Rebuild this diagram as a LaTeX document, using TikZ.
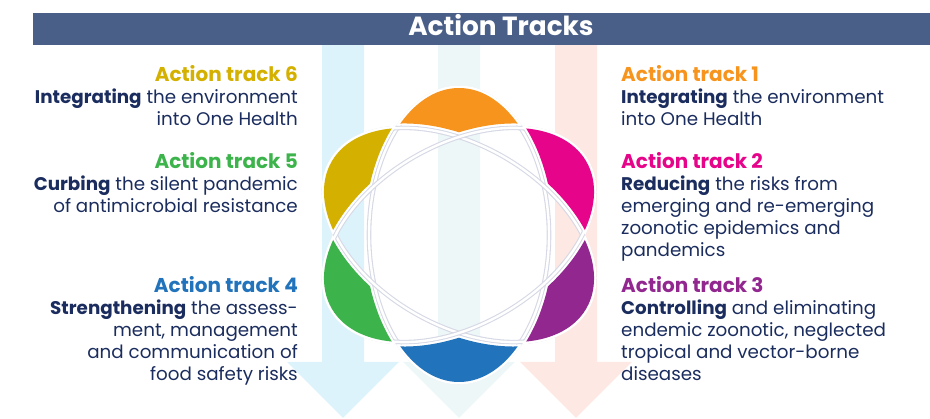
\documentclass[tikz,border=0pt]{standalone}
\usepackage{fontspec}
\setmainfont{Poppins}
\usetikzlibrary{positioning}

\definecolor{barblue}{HTML}{4A5F88}
\definecolor{textnavy}{HTML}{1B2D5E}
\definecolor{atorange}{HTML}{F7941D}
\definecolor{atpink}{HTML}{E6058A}
\definecolor{atpurple}{HTML}{92278F}
\definecolor{atblue}{HTML}{2173BB}
\definecolor{atgreen}{HTML}{3CB44B}
\definecolor{atgold}{HTML}{D4B000}
\definecolor{shaftblue}{HTML}{DDF3FC}
\definecolor{shaftteal}{HTML}{EDF7F8}
\definecolor{shaftpink}{HTML}{FDE8E3}
\definecolor{ringgray}{HTML}{D6D9E5}

\newcommand{\tracktitle}[2]{{\color{#1}\fontsize{20}{22}\selectfont\bfseries #2}}
\tikzstyle{trackleft} = [align=right, anchor=base east, inner sep=0, text=textnavy, font=\fontsize{18.3}{22}\selectfont]
\tikzstyle{trackright} = [trackleft, align=left, anchor=base west]
\tikzstyle{ring} = [draw=ringgray, line width=1.1pt, double=white, double distance=2.4pt]

% one ellipse of the flower: #1 its rotation, #2 #3 the other two, #4 top petal, #5 bottom petal
% (square drawn clockwise, ellipse counter-clockwise: the clip keeps the outside)
\newcommand{\petalpair}[5]{%
  \begin{scope}
    \clip[rotate=#1] (0,0) ellipse (92.5 and 149.5);
    \clip[rotate=#2] (-300,-300) -- (-300,300) -- (300,300) -- (300,-300) -- cycle (0,0) ellipse (92.5 and 149.5);
    \clip[rotate=#3] (-300,-300) -- (-300,300) -- (300,300) -- (300,-300) -- cycle (0,0) ellipse (92.5 and 149.5);
    \fill[white] (-300,-300) rectangle (300,300);
  \end{scope}
  \begin{scope}
    \clip[rotate=#1] (0,0) ellipse (90 and 147);
    \clip[rotate=#2] (-300,-300) -- (-300,300) -- (300,300) -- (300,-300) -- cycle (0,0) ellipse (94.5 and 151.5);
    \clip[rotate=#3] (-300,-300) -- (-300,300) -- (300,300) -- (300,-300) -- cycle (0,0) ellipse (94.5 and 151.5);
    \fill[#4, rotate=#1] (-300,0) rectangle (300,300);
    \fill[#5, rotate=#1] (-300,-300) rectangle (300,0);
  \end{scope}}

\begin{document}
\begin{tikzpicture}[x=1pt, y=1pt]
\useasboundingbox (0,0) rectangle (930,419);

%arrows
\fill[shaftblue] (322,374) -- (364,374) -- (364,57) -- (399,57) -- (343,1) -- (287,57) -- (322,57) -- cycle;
\fill[shaftteal] (438,374) -- (480,374) -- (480,57) -- (515,57) -- (459,1) -- (403,57) -- (438,57) -- cycle;
\fill[shaftpink] (555,374) -- (597,374) -- (597,57) -- (632,57) -- (576,1) -- (520,57) -- (555,57) -- cycle;

%header
\node (bar) [fill=barblue, minimum width=897, minimum height=32, inner sep=0, anchor=north west] at (33,406) {};
\node (title) [text=white, font=\fontsize{26.3}{30}\selectfont\bfseries, inner sep=0, anchor=base] at (501,383) {Action Tracks};

%flower
\begin{scope}[shift={(459,184)}]
\draw[ring] (0,0) ellipse (90 and 147);
\draw[ring, rotate=60] (0,0) ellipse (90 and 147);
\draw[ring, rotate=-60] (0,0) ellipse (90 and 147);
\petalpair{0}{60}{-60}{atorange}{atblue}
\petalpair{60}{0}{-60}{atgold}{atpurple}
\petalpair{-60}{0}{60}{atpink}{atgreen}
\end{scope}

%left tracks (anchored on the last line)
\node (track6) [trackleft] at (298,293) {\tracktitle{atgold}{Action track 6}\\\textbf{Integrating} the environment\\into One Health};
\node (track5) [trackleft] at (298,206) {\tracktitle{atgreen}{Action track 5}\\\textbf{Curbing} the silent pandemic\\of antimicrobial resistance};
\node (track4) [trackleft] at (298,38) {\tracktitle{atblue}{Action track 4}\\\textbf{Strengthening} the assess-\\ment, management\\and communication of\\food safety risks};

%right tracks
\node (track1) [trackright] at (621,293) {\tracktitle{atorange}{Action track 1}\\\textbf{Integrating} the environment\\into One Health};
\node (track2) [trackright] at (621,162) {\tracktitle{atpink}{Action track 2}\\\textbf{Reducing} the risks from\\emerging and re-emerging\\zoonotic epidemics and\\pandemics};
\node (track3) [trackright] at (621,38) {\tracktitle{atpurple}{Action track 3}\\\textbf{Controlling} and eliminating\\endemic zoonotic, neglected\\tropical and vector-borne\\diseases};

\end{tikzpicture}
\end{document}
